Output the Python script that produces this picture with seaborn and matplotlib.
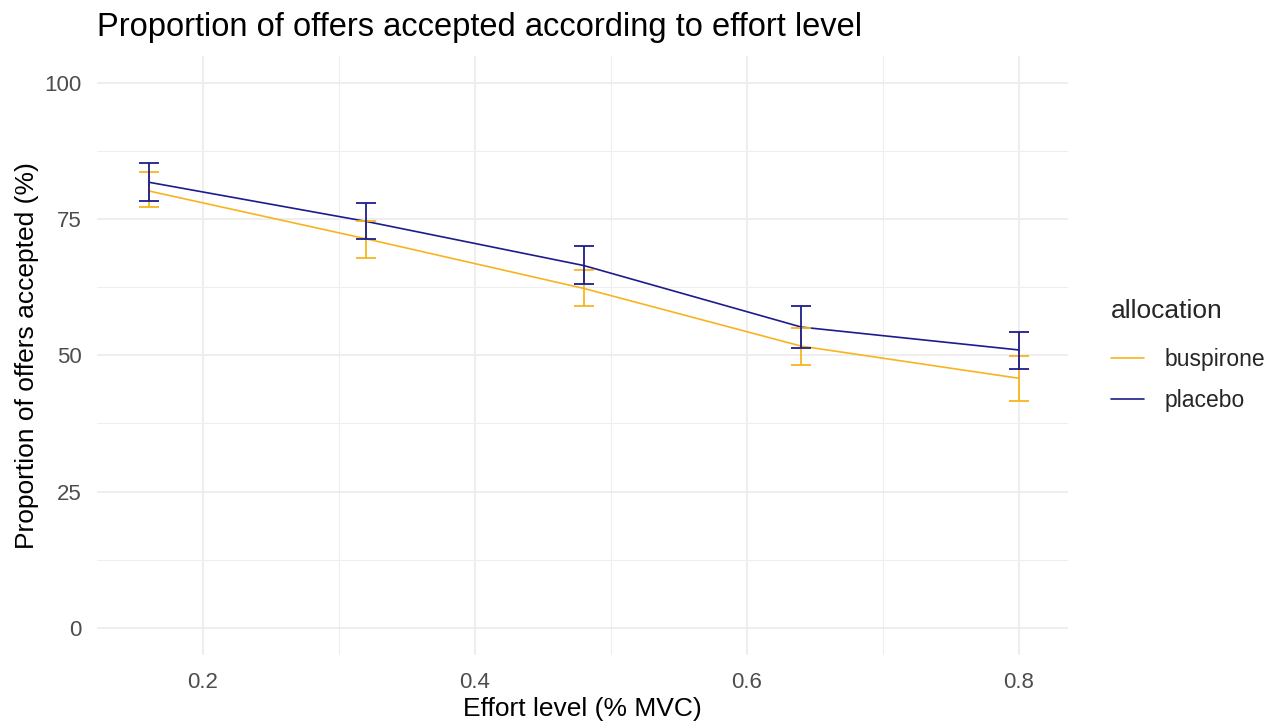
import numpy as np
import pandas as pd
import seaborn as sns
import matplotlib.pyplot as plt

effort = [0.16, 0.32, 0.48, 0.64, 0.80]
allocations = ['buspirone', 'placebo']

busp_mean = [80.2, 71.4, 62.3, 51.7, 45.8]
busp_lo = [77.2, 67.9, 59.1, 48.2, 41.7]
busp_hi = [83.6, 74.7, 65.6, 55.0, 49.9]

plac_mean = [81.8, 74.6, 66.5, 55.2, 51.0]
plac_lo = [78.4, 71.3, 63.1, 51.3, 47.5]
plac_hi = [85.3, 78.0, 70.0, 59.0, 54.3]

palette = {'buspirone': '#F7B41F', 'placebo': '#1C1C8C'}

df = pd.DataFrame({
    'effort': effort * 2,
    'accepted': busp_mean + plac_mean,
    'lo': busp_lo + plac_lo,
    'hi': busp_hi + plac_hi,
    'allocation': ['buspirone'] * 5 + ['placebo'] * 5,
})

sns.set_theme(style='whitegrid')
plt.rcParams['font.family'] = ['Liberation Sans', 'DejaVu Sans']

fig = plt.figure(figsize=(12.86, 7.28), dpi=100)
ax = fig.add_axes([0.0754, 0.1003, 0.755, 0.823])

sns.lineplot(data=df, x='effort', y='accepted', hue='allocation',
             hue_order=allocations, palette=palette, linewidth=1.2, ax=ax)

# error bars per group
for name in allocations:
    sub = df[df['allocation'] == name]
    ax.errorbar(sub['effort'], sub['accepted'],
                yerr=[sub['accepted'] - sub['lo'], sub['hi'] - sub['accepted']],
                fmt='none', ecolor=palette[name], elinewidth=1.3,
                capsize=7, capthick=1.3, zorder=3)

ax.set_xlim(0.122, 0.836)
ax.set_ylim(-5, 105)
ax.set_xticks([0.2, 0.4, 0.6, 0.8])
ax.set_xticklabels(['0.2', '0.4', '0.6', '0.8'])
ax.set_yticks([0, 25, 50, 75, 100])
ax.set_xticks([0.3, 0.5, 0.7], minor=True)
ax.set_yticks([12.5, 37.5, 62.5, 87.5], minor=True)
ax.grid(which='major', color='#EBEBEB', linewidth=1.2)
ax.grid(which='minor', color='#EFEFEF', linewidth=0.8)
ax.set_facecolor('white')
for s in ax.spines.values():
    s.set_visible(False)
ax.tick_params(axis='both', which='both', length=0, labelsize=16,
               labelcolor='#4D4D4D')
ax.tick_params(axis='x', pad=12)
ax.tick_params(axis='y', pad=11)

ax.set_xlabel('Effort level (% MVC)', fontsize=19, color='black', labelpad=3)
ax.set_ylabel('Proportion of offers accepted (%)', fontsize=19, color='black', labelpad=4)
fig.text(0.0754, 0.962, 'Proportion of offers accepted according to effort level',
         fontsize=23.5, ha='left', va='center', color='black')

leg = ax.legend(title='allocation', loc='center left', bbox_to_anchor=(1.023, 0.5),
                frameon=False, fontsize=16.5, title_fontsize=19,
                handlelength=1.44, handletextpad=0.9, labelspacing=0.8)
leg._legend_box.align = 'left'
leg._legend_box.sep = leg._legend_box.sep + 5

fig.savefig('out.png', dpi=100)
